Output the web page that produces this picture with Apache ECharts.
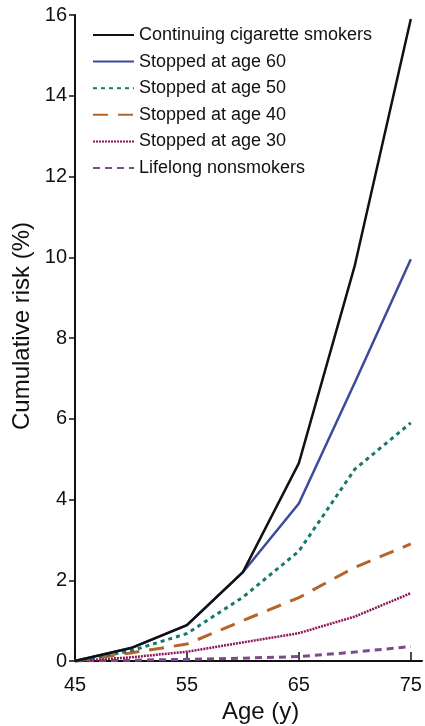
<!DOCTYPE html>
<html><head><meta charset="utf-8">
<script src="https://cdn.jsdelivr.net/npm/echarts@6/dist/echarts.min.js"></script>
<style>html,body{margin:0;padding:0;background:#fff}#c{width:425px;height:726px}</style>
</head><body><div id="c"></div>
<script>
const ages = [45, 50, 55, 60, 65, 70, 75];
const continuing = [0, 0.32, 0.89, 2.2, 4.9, 9.8, 15.9];
const stopped60 = [0, 0.32, 0.89, 2.2, 3.9, 6.9, 9.95];
const stopped50 = [0, 0.25, 0.68, 1.58, 2.72, 4.75, 5.9];
const stopped40 = [0, 0.2, 0.42, 1.0, 1.57, 2.32, 2.9];
const stopped30 = [0, 0.09, 0.23, 0.46, 0.69, 1.1, 1.68];
const nonsmokers = [0, 0.02, 0.04, 0.07, 0.11, 0.22, 0.36];
const xTicks = [45, 55, 65, 75];
const xTitle = 'Age (y)';
const yTitle = 'Cumulative risk (%)';
const names = ['Continuing cigarette smokers','Stopped at age 60','Stopped at age 50','Stopped at age 40','Stopped at age 30','Lifelong nonsmokers'];
const seriesData = [continuing, stopped60, stopped50, stopped40, stopped30, nonsmokers];
const colors = ['#111111','#3b4a9c','#17786c','#b5642a','#8e1559','#7b4b8c'];
const types = ['solid','solid',[4,4],[15,10],[2,1],[7,5]];
const widths = [2.5,2.5,3,3,2.5,3];
const font = 'Liberation Sans, Arial, sans-serif';

const chart = echarts.init(document.getElementById('c'));
chart.setOption({
  animation:false,
  textStyle:{fontFamily:font},
  grid:{left:75,right:3,top:15,bottom:65},
  legend:{
    orient:'vertical', left:87, top:21, itemWidth:41, itemHeight:14, itemGap:8.6,
    itemStyle:{opacity:0},
    textStyle:{fontSize:18,color:'#111'},
    data:names
  },
  graphic:[
    {type:'text', left:222, top:700, style:{text:xTitle, fontSize:24, fill:'#111', fontFamily:font}},
    {type:'text', x:22, y:326, rotation:Math.PI/2, style:{text:yTitle, fontSize:24, fill:'#111', align:'center', verticalAlign:'middle', fontFamily:font}}
  ],
  xAxis:{
    type:'value', min:45, max:76,
    axisLine:{lineStyle:{color:'#111',width:2}},
    axisTick:{inside:true,length:9,customValues:xTicks,lineStyle:{color:'#111',width:1.5}},
    axisLabel:{customValues:xTicks,fontSize:20,color:'#111',margin:14},
    splitLine:{show:false}
  },
  yAxis:{
    type:'value', min:0, max:16, interval:2,
    axisLine:{show:true,lineStyle:{color:'#111',width:2}},
    axisTick:{show:true,length:6,lineStyle:{color:'#111',width:1.5}},
    axisLabel:{fontSize:20,color:'#111',margin:8},
    splitLine:{show:false}
  },
  series: seriesData.map((d,i)=>({
    name:names[i], type:'line', showSymbol:false, symbol:'none',
    data: ages.map((a,j)=>[a,d[j]]),
    itemStyle:{color:colors[i]},
    lineStyle:{color:colors[i],width:widths[i],type:types[i]},
    z: 10-i
  }))
});
</script></body></html>
